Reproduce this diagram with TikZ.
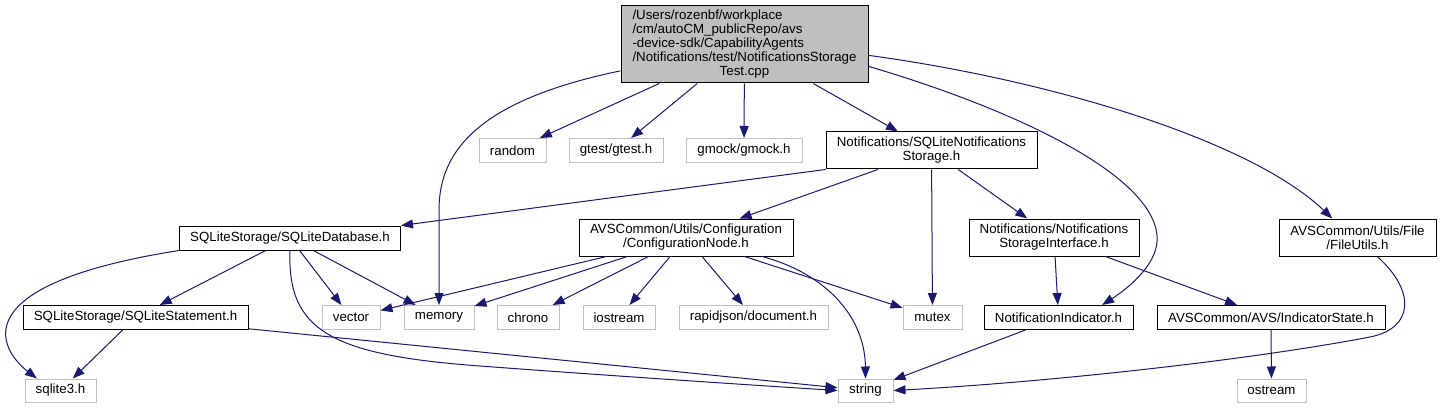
\documentclass[tikz,border=0pt]{standalone}
\usepackage{fontspec}
\setmainfont{Liberation Sans}
\usepackage{tikz}
\usetikzlibrary{arrows.meta}
\usepackage{xcolor}
\definecolor{edgeblue}{RGB}{25,25,112}
\definecolor{extgray}{RGB}{191,191,191}

\begin{document}
\begin{tikzpicture}[x=1pt,y=-1pt,
  docbox/.style={draw=black, line width=1pt, fill=white, inner sep=0pt, minimum height=24pt, align=center, font=\fontsize{13.3}{14}\selectfont},
  tallbox/.style={minimum height=37pt},
  sysbox/.style={docbox, draw=extgray},
  dep/.style={edgeblue, line width=1pt, -{Triangle[length=12pt,width=9pt]}}]
  \useasboundingbox (0,0) rectangle (1441,409);

  % test file
  \node[docbox, fill=extgray, minimum width=247pt, minimum height=77pt] (root) at (744.5,44.5)
    {\begin{tabular}{@{}l@{}}/Users/rozenbf/workplace\\/cm/autoCM\_publicRepo/avs\\-device-sdk/CapabilityAgents\\/Notifications/test/NotificationsStorage\\\multicolumn{1}{@{}c@{}}{Test.cpp}\end{tabular}};

  % first level
  \node[sysbox, minimum width=67pt] (random) at (512.5,150.5) {random};
  \node[sysbox, minimum width=94pt] (gtest) at (616,150.5) {gtest/gtest.h};
  \node[sysbox, minimum width=116pt] (gmock) at (744,150.5) {gmock/gmock.h};
  \node[docbox, tallbox, minimum width=211pt] (sqlnot) at (931.5,150.5) {Notifications/SQLiteNotifications\\Storage.h};

  % second level
  \node[docbox, minimum width=221pt] (sqldb) at (290,238) {SQLiteStorage/SQLiteDatabase.h};
  \node[docbox, tallbox, minimum width=214pt] (confnode) at (686,237.5) {AVSCommon/Utils/Configuration\\/ConfigurationNode.h};
  \node[docbox, tallbox, minimum width=170pt] (nsi) at (1054,237.5) {Notifications/Notifications\\StorageInterface.h};
  \node[docbox, tallbox, minimum width=157pt] (fileutils) at (1357.5,237.5) {AVSCommon/Utils/File\\/FileUtils.h};

  % third level
  \node[docbox, minimum width=225pt] (stmt) at (135.5,317.5) {SQLiteStorage/SQLiteStatement.h};
  \node[sysbox, minimum width=58pt] (vector) at (351,317.5) {vector};
  \node[sysbox, minimum width=70pt] (memory) at (439,317.5) {memory};
  \node[sysbox, minimum width=62pt] (chrono) at (528,317.5) {chrono};
  \node[sysbox, minimum width=72pt] (iostream) at (619,317.5) {iostream};
  \node[sysbox, minimum width=149pt] (rapidjson) at (753.5,317.5) {rapidjson/document.h};
  \node[sysbox, minimum width=59pt] (mutex) at (932.5,317.5) {mutex};
  \node[docbox, minimum width=149pt] (nind) at (1058.5,317.5) {NotificationIndicator.h};
  \node[docbox, minimum width=228pt] (indstate) at (1271,317.5) {AVSCommon/AVS/IndicatorState.h};

  % bottom
  \node[sysbox, minimum width=71pt, minimum height=23pt] (sqlite3) at (60.5,390.5) {sqlite3.h};
  \node[sysbox, minimum width=55pt, minimum height=23pt] (string) at (865.5,390.5) {string};
  \node[sysbox, minimum width=69pt, minimum height=23pt] (ostream) at (1271.5,390.5) {ostream};

  % includes of the test
  \draw[dep] (root) -- (random);
  \draw[dep] (root) -- (gtest);
  \draw[dep] (root) -- (gmock);
  \draw[dep] (root) -- (sqlnot);
  \draw[dep] (root.192) .. controls (480,100) and (439,150) .. (439,210) -- (memory);
  \draw[dep] (root.350) .. controls (1000,105) and (1150,170) .. (1157,235) .. controls (1160,262) and (1130,287) .. (nind.16);
  \draw[dep] (root.355) .. controls (1050,80) and (1250,140) .. (fileutils.143);

  % storage
  \draw[dep] (sqlnot.south west) -- (sqldb.north east);
  \draw[dep] (sqlnot) -- (confnode);
  \draw[dep] (sqlnot) -- (mutex);
  \draw[dep] (sqlnot) -- (nsi);

  % database
  \draw[dep] (sqldb.south west) .. controls (-40,285) and (0,350) .. (sqlite3.153);
  \draw[dep] (sqldb) -- (stmt);
  \draw[dep] (sqldb) -- (vector);
  \draw[dep] (sqldb) -- (memory);
  \draw[dep] (sqldb.south) .. controls (287,330) and (330,355) .. (480,366) .. controls (600,375) and (750,385) .. (string.west);
  \draw[dep] (stmt) -- (sqlite3);
  \draw[dep] (stmt) -- (string);

  % configuration
  \draw[dep] (confnode) -- (vector);
  \draw[dep] (confnode) -- (memory);
  \draw[dep] (confnode) -- (chrono);
  \draw[dep] (confnode) -- (iostream);
  \draw[dep] (confnode) -- (rapidjson);
  \draw[dep] (confnode) -- (mutex);
  \draw[dep] (confnode.346) .. controls (830,275) and (865,320) .. (string.north);

  % interface and utils
  \draw[dep] (nsi) -- (nind);
  \draw[dep] (nsi) -- (indstate);
  \draw[dep] (nind) -- (string);
  \draw[dep] (indstate) -- (ostream);
  \draw[dep] (fileutils.316) .. controls (1415,290) and (1415,328) .. (1370,337) .. controls (1250,360) and (1050,382) .. (string.east);
\end{tikzpicture}
\end{document}
